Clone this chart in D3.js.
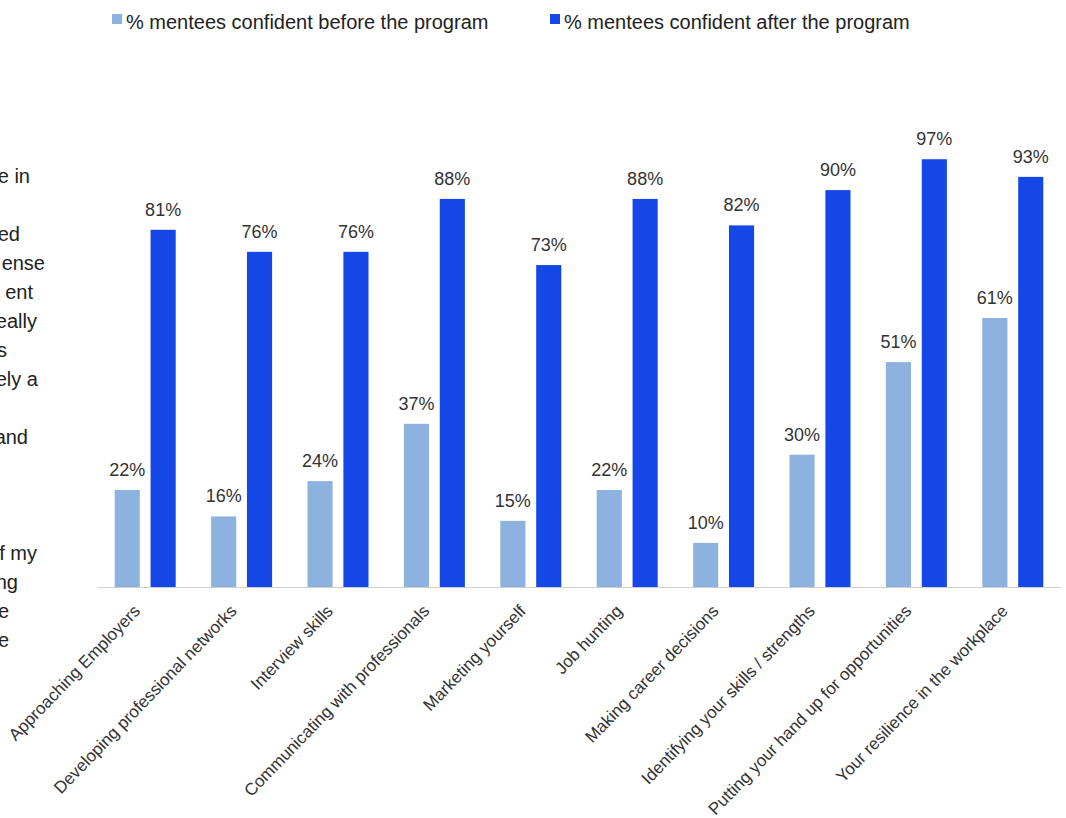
<!DOCTYPE html>
<html>
<head>
<meta charset="utf-8">
<script src="https://cdn.jsdelivr.net/npm/d3@7"></script>
<style>
  body { margin: 0; background: #fff; }
  svg { display: block; font-family: Arial, "Liberation Sans", sans-serif; }
</style>
</head>
<body>
<div id="chart"></div>
<script>
// skills asked about in the survey
var categories = ["Approaching Employers", "Developing professional networks", "Interview skills",
                  "Communicating with professionals", "Marketing yourself", "Job hunting",
                  "Making career decisions", "Identifying your skills / strengths",
                  "Putting your hand up for opportunities", "Your resilience in the workplace"];

var seriesNames = ["% mentees confident before the program", "% mentees confident after the program"];
var beforeValues = [22, 16, 24, 37, 15, 22, 10, 30, 51, 61];
var afterValues  = [81, 76, 76, 88, 73, 88, 82, 90, 97, 93];

// cut-off paragraph on the left of the screenshot (line index, visible text)
var sideLines = [[0, "e in"], [2, "ed"], [3, "ense"], [4, "ent"], [5, "eally"], [6, "s"],
                 [7, "ely a"], [9, "and"], [13, "of my"], [14, "ng"], [15, "e"], [16, "e"]];
var sideEnds = [30, 20, 45, 33, 37, 7, 38, 28, 37, 18, 9, 9];

var colors = ["#8eb2e0", "#1547e6"];

var width = 1066, height = 818;
var baseline = 587;

var svg = d3.select("#chart").append("svg")
    .attr("width", width)
    .attr("height", height);

var x0 = d3.scaleBand()
    .domain(categories)
    .range([97, 1061]);

var x1 = d3.scaleBand()
    .domain(seriesNames)
    .range([0, 61])
    .paddingInner(0.3);

var y = d3.scaleLinear()
    .domain([0, 100])
    .range([baseline, 146]);

var groupOffset = (x0.bandwidth() - 61) / 2;

var rows = categories.map(function(c, i) {
  return {cat: c, values: [
    {key: seriesNames[0], value: beforeValues[i]},
    {key: seriesNames[1], value: afterValues[i]}
  ]};
});

// x axis with rotated labels
var xAxis = svg.append("g")
    .attr("class", "x-axis")
    .attr("transform", "translate(0," + baseline + ")")
    .call(d3.axisBottom(x0).tickSize(0).tickSizeOuter(0));

xAxis.select(".domain")
    .attr("stroke", "#cfcfcf")
    .attr("stroke-width", 1.2);

xAxis.selectAll("text")
    .attr("y", 0)
    .attr("dy", 0)
    .attr("transform", "translate(-4,25) rotate(-46)")
    .style("text-anchor", "end")
    .style("font-size", "17px")
    .style("fill", "#333");

var groups = svg.append("g")
    .selectAll("g")
    .data(rows)
    .enter().append("g")
      .attr("transform", function(d) { return "translate(" + (x0(d.cat) + groupOffset) + ",0)"; });

groups.selectAll("rect")
    .data(function(d) { return d.values; })
    .enter().append("rect")
      .attr("x", function(d) { return x1(d.key); })
      .attr("y", function(d) { return y(d.value); })
      .attr("width", x1.bandwidth())
      .attr("height", function(d) { return baseline - y(d.value); })
      .style("fill", function(d, i) { return colors[i]; });

groups.selectAll("text.val")
    .data(function(d) { return d.values; })
    .enter().append("text")
      .attr("class", "val")
      .attr("x", function(d) { return x1(d.key) + x1.bandwidth() / 2; })
      .attr("y", function(d) { return y(d.value) - 14; })
      .attr("text-anchor", "middle")
      .style("font-size", "18px")
      .style("fill", "#333")
      .text(function(d) { return d.value + "%"; });

// legend
var legendX = [112, 550];
var legend = svg.append("g")
    .selectAll("g")
    .data(seriesNames)
    .enter().append("g")
      .attr("transform", function(d, i) { return "translate(" + legendX[i] + ",0)"; });

legend.append("rect")
    .attr("x", 0)
    .attr("y", 14)
    .attr("width", 10)
    .attr("height", 10)
    .style("fill", function(d, i) { return colors[i]; });

legend.append("text")
    .attr("x", 14)
    .attr("y", 29)
    .style("font-size", "20px")
    .style("fill", "#222")
    .text(function(d) { return d; });

// text fragments on the left edge
svg.append("g")
    .selectAll("text")
    .data(sideLines)
    .enter().append("text")
      .attr("x", function(d, i) { return sideEnds[i]; })
      .attr("y", function(d) { return 183 + d[0] * 29; })
      .attr("text-anchor", "end")
      .style("font-size", "20px")
      .style("fill", "#222")
      .text(function(d) { return d[1]; });
</script>
</body>
</html>
